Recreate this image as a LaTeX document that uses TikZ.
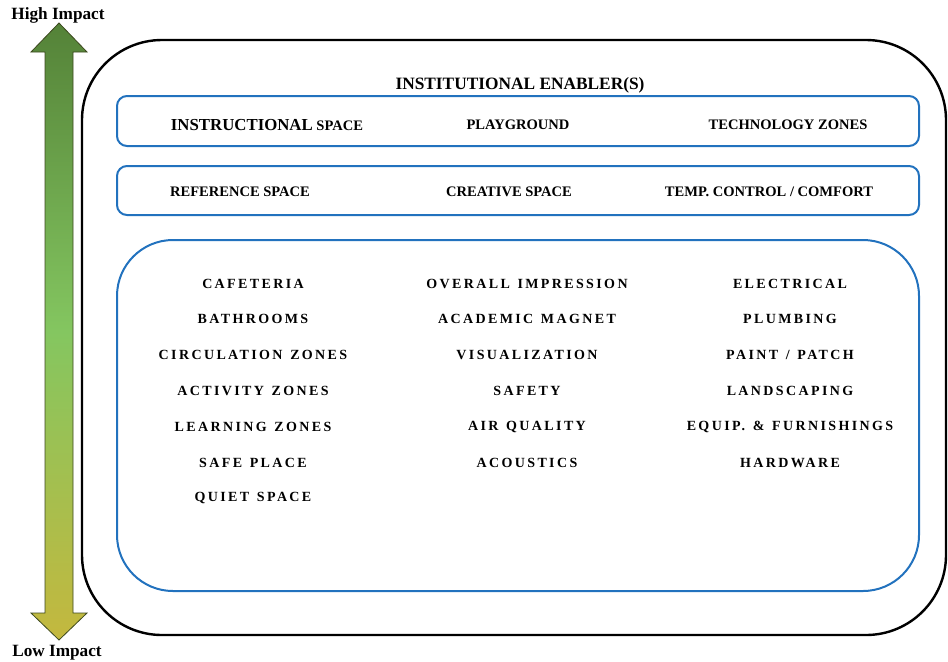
\documentclass[tikz,border=0pt]{standalone}
\usepackage{fontspec}
\setmainfont{Liberation Serif}
\newfontfamily\spacedfont[LetterSpace=17,WordSpace=1.3]{Liberation Serif}
\definecolor{boxblue}{RGB}{34,114,190}
\definecolor{arrowtop}{RGB}{84,130,56}
\definecolor{arrowmid}{RGB}{132,198,96}
\definecolor{arrowbot}{RGB}{196,184,62}
\definecolor{arrowline}{RGB}{60,72,30}
\tikzset{
  bluebox/.style={draw=boxblue, line width=1.5pt, rounded corners=7.5pt},
  toplabel/.style={font=\bfseries\fontsize{10.9}{12}\selectfont},
  itemlabel/.style={font=\spacedfont\bfseries\fontsize{10.5}{12}\selectfont},
  endlabel/.style={font=\bfseries\fontsize{12.9}{14}\selectfont}
}

\begin{document}
\begin{tikzpicture}[x=0.75pt,y=-0.75pt]
			\useasboundingbox (0,0) rectangle (948,661);
			% impact arrow
			\shade[top color=arrowtop, bottom color=arrowbot, middle color=arrowmid, draw=arrowline, line width=0.6pt]
			  (59,23) -- (87,52) -- (73,52) -- (73,613) -- (87,613) -- (59,640)
			  -- (31,613) -- (45,613) -- (45,52) -- (31,52) -- cycle;
			\node[endlabel] (high) at (58,15) {High Impact};
			\node[endlabel] (low) at (57,653) {Low Impact};

			% frames
			\draw[line width=1.8pt, rounded corners=60pt] (82,40) rectangle (946,635);
			\node[font=\bfseries\fontsize{13}{15}\selectfont] (title) at (520,85.5) {INSTITUTIONAL ENABLER(S)};
			\draw[bluebox] (117,96) rectangle (919,146);
			\draw[bluebox] (117,166) rectangle (919,215);
			\draw[bluebox, rounded corners=42pt] (117,240) rectangle (919,591);

			\node[toplabel] (instr) at (267,125) {{\fontsize{12.6}{14}\selectfont INSTRUCTIONAL} SPACE};
			\node[toplabel] (play) at (518,125) {PLAYGROUND};
			\node[toplabel] (tech) at (788,125) {TECHNOLOGY ZONES};
			\node[toplabel] (ref) at (240,192) {REFERENCE SPACE};
			\node[toplabel] (creat) at (509,192) {CREATIVE SPACE};
			\node[toplabel] (temp) at (769,192) {TEMP. CONTROL / COMFORT};

			\node[itemlabel] (cafe) at (253,284) {CAFETERIA};
			\node[itemlabel] (bath) at (253,319) {BATHROOMS};
			\node[itemlabel] (circ) at (253,355) {CIRCULATION ZONES};
			\node[itemlabel] (activ) at (253,391) {ACTIVITY ZONES};
			\node[itemlabel] (learn) at (253,427) {LEARNING ZONES};
			\node[itemlabel] (safep) at (253,463) {SAFE PLACE};
			\node[itemlabel] (quiet) at (253,498) {QUIET SPACE};

			\node[itemlabel] (overall) at (527,284) {OVERALL IMPRESSION};
			\node[itemlabel] (magnet) at (527,319) {ACADEMIC MAGNET};
			\node[itemlabel] (visual) at (527,355) {VISUALIZATION};
			\node[itemlabel] (safety) at (527,391) {SAFETY};
			\node[itemlabel] (air) at (527,427) {AIR QUALITY};
			\node[itemlabel] (acoust) at (527,463) {ACOUSTICS};

			\node[itemlabel] (elec) at (790,284) {ELECTRICAL};
			\node[itemlabel] (plumb) at (790,319) {PLUMBING};
			\node[itemlabel] (paint) at (790,355) {PAINT / PATCH};
			\node[itemlabel] (land) at (790,391) {LANDSCAPING};
			\node[itemlabel] (equip) at (790,427) {EQUIP. \& FURNISHINGS};
			\node[itemlabel] (hard) at (790,463) {HARDWARE};
			\end{tikzpicture}
\end{document}
